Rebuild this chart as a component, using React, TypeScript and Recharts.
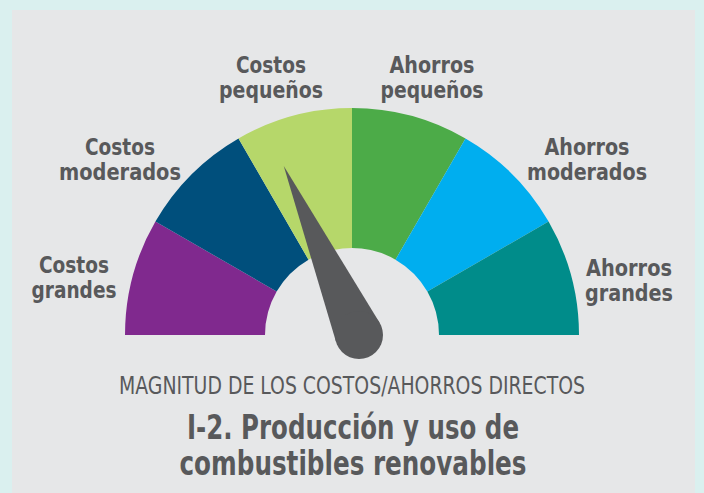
import { PieChart, Pie, Cell, Customized } from 'recharts';

// gauge categories, left to right
const categories = [
  'Costos grandes',
  'Costos moderados',
  'Costos pequeños',
  'Ahorros pequeños',
  'Ahorros moderados',
  'Ahorros grandes',
];
const labelLines = [
  ['Costos', 'grandes'],
  ['Costos', 'moderados'],
  ['Costos', 'pequeños'],
  ['Ahorros', 'pequeños'],
  ['Ahorros', 'moderados'],
  ['Ahorros', 'grandes'],
];
const segmentValues = [1, 1, 1, 1, 1, 1];
const needleValue = 2.2; // on the 0..6 scale of the gauge
const axisTitle = 'MAGNITUD DE LOS COSTOS/AHORROS DIRECTOS';
const titleLines = ['I-2. Producción y uso de', 'combustibles renovables'];

const colors = ['#80298e', '#004f7c', '#b6d76a', '#4cab48', '#00aeef', '#008c8a'];

const W = 704;
const H = 493;
const CX = 352;
const CY = 335;
const TEXT = '#58595b';
const NARROW = '"Liberation Sans Narrow", "Arial Narrow", "DejaVu Sans Condensed", sans-serif';
const COND = '"DejaVu Sans Condensed", "Liberation Sans Narrow", sans-serif';

// label placement relative to gauge centre: dx, baseline of first line, widths of lines
const labelLayout = [
  { dx: -278, dy: -62, w: [70, 85] },
  { dx: -232, dy: -180, w: [70, 122] },
  { dx: -81, dy: -262, w: [70, 104] },
  { dx: 80, dy: -262, w: [85, 103] },
  { dx: 235, dy: -180, w: [85, 120] },
  { dx: 277, dy: -59, w: [86, 88] },
];

const total = segmentValues.reduce((a, b) => a + b, 0);
const data = categories.map((name, i) => ({ name, value: segmentValues[i] }));
const needleData = [
  { name: 'needle', value: needleValue },
  { name: 'rest', value: total - needleValue },
];

const renderLabel = (props: any) => {
  const i = props.index;
  const l = labelLayout[i];
  const x = CX + l.dx;
  return (
    <text
      key={'lbl' + i}
      x={x}
      y={CY + l.dy}
      textAnchor="middle"
      fill={TEXT}
      fontFamily={COND}
      fontWeight="bold"
      fontSize={23}
    >
      {labelLines[i].map((t, j) => (
        <tspan key={j} x={x} y={CY + l.dy + j * 25} textLength={l.w[j]} lengthAdjust="spacingAndGlyphs">
          {t}
        </tspan>
      ))}
    </text>
  );
};

// needle drawn at the end angle of the first sector of the (invisible) needle pie
const renderNeedle = (props: any) => {
  if (props.index !== 0) return <g key="n1" />;
  const endDeg = props.endAngle ?? 180 - (needleValue / total) * 180;
  const theta = (endDeg * Math.PI) / 180;
  const px = CX + 7;
  const py = CY;
  const r = 24;
  const len = 185;
  const tx = px + len * Math.cos(theta);
  const ty = py - len * Math.sin(theta);
  const a = Math.acos(r / len);
  const p1 = [px + r * Math.cos(theta + a), py - r * Math.sin(theta + a)];
  const p2 = [px + r * Math.cos(theta - a), py - r * Math.sin(theta - a)];
  return (
    <g key="n0">
      <path d={`M${tx},${ty} L${p1[0]},${p1[1]} L${p2[0]},${p2[1]} Z`} fill={TEXT} />
      <circle cx={px} cy={py} r={r} fill={TEXT} />
    </g>
  );
};

const Titles = () => (
  <g fill={TEXT} textAnchor="middle">
    <text x={CX} y={394} fontFamily={NARROW} fontSize={24} textLength={466} lengthAdjust="spacingAndGlyphs">
      {axisTitle}
    </text>
    <text x={353} y={439} fontFamily={NARROW} fontWeight="bold" fontSize={34} textLength={332} lengthAdjust="spacingAndGlyphs">
      {titleLines[0]}
    </text>
    <text x={353} y={475} fontFamily={NARROW} fontWeight="bold" fontSize={34} textLength={347} lengthAdjust="spacingAndGlyphs">
      {titleLines[1]}
    </text>
  </g>
);

export default function App() {
  return (
    <div style={{ position: 'absolute', left: 0, top: 0, width: W, height: H, background: '#daf0ef', overflow: 'hidden' }}>
      <div style={{ position: 'absolute', left: 12, top: 10, width: 683, height: H - 10, background: '#e6e7e8' }} />
      <div style={{ position: 'absolute', left: 0, top: 0 }}>
        <PieChart width={W} height={H} margin={{ top: 0, right: 0, bottom: 0, left: 0 }}>
          <Pie
            data={data}
            dataKey="value"
            nameKey="name"
            cx={CX}
            cy={CY}
            startAngle={180}
            endAngle={0}
            innerRadius={87}
            outerRadius={227}
            stroke="none"
            label={renderLabel}
            labelLine={false}
            isAnimationActive={false}
          >
            {data.map((d, i) => (
              <Cell key={d.name} fill={colors[i]} />
            ))}
          </Pie>
          <Pie
            data={needleData}
            dataKey="value"
            nameKey="name"
            cx={CX}
            cy={CY}
            startAngle={180}
            endAngle={0}
            innerRadius={0}
            outerRadius={10}
            fill="none"
            stroke="none"
            label={renderNeedle}
            labelLine={false}
            isAnimationActive={false}
          />
          <Customized component={Titles} />
        </PieChart>
      </div>
    </div>
  );
}
